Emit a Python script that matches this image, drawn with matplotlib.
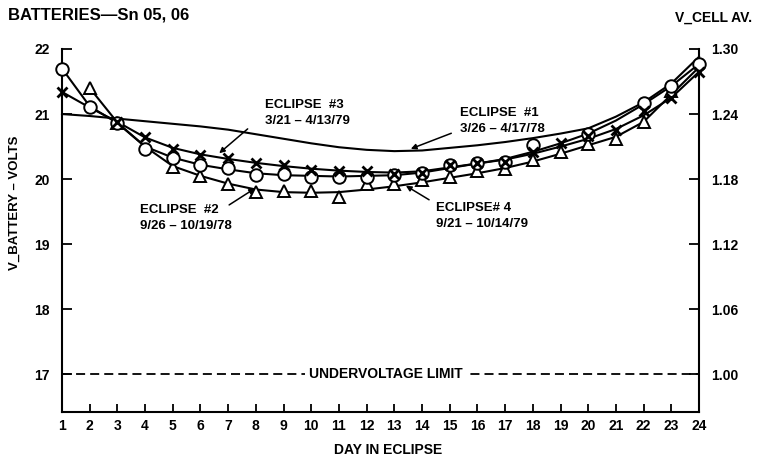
import numpy as np
import matplotlib.pyplot as plt

plt.rcParams['font.family'] = ['Liberation Sans', 'DejaVu Sans']
plt.rcParams['font.weight'] = 'bold'

nan = np.nan
days = list(range(1, 25))

# eclipse #1: smooth trace only, no plotted points
eclipse1 = [21.00, 20.97, 20.93, 20.89, 20.85, 20.81, 20.76, 20.69, 20.62, 20.55, 20.49, 20.45,
            20.43, 20.44, 20.48, 20.52, 20.57, 20.63, 20.70, 20.78, 20.96, 21.18, 21.47, 21.88]

# crosses (eclipse #3)
cross_pts = [21.34, nan, 20.88, 20.64, 20.47, 20.37, 20.32, 20.25, 20.22, 20.14, 20.12, 20.12,
             20.08, 20.09, 20.22, 20.24, 20.26, 20.41, 20.55, 20.66, 20.75, 21.05, 21.24, 21.65]
cross_line = [21.34, 21.10, 20.88, 20.64, 20.48, 20.38, 20.31, 20.25, 20.20, 20.16, 20.13, 20.11,
              20.10, 20.12, 20.18, 20.24, 20.30, 20.39, 20.50, 20.62, 20.77, 20.98, 21.25, 21.65]

# circles
circle_pts = [21.70, 21.11, 20.86, 20.47, 20.33, 20.22, 20.17, 20.06, 20.08, 20.04, 20.03, 20.04,
              20.06, 20.09, 20.22, 20.24, 20.26, 20.52, nan, 20.70, nan, 21.17, 21.43, 21.77]
circle_line = [21.70, 21.12, 20.86, 20.50, 20.33, 20.22, 20.15, 20.09, 20.06, 20.05, 20.04, 20.05,
               20.06, 20.10, 20.17, 20.24, 20.31, 20.42, 20.55, 20.70, 20.90, 21.15, 21.43, 21.77]

# triangles (eclipse #2)
tri_pts = [nan, 21.40, 20.87, nan, 20.19, 20.05, 19.93, 19.80, 19.82, 19.82, 19.72, 19.92,
           19.92, 19.98, 20.03, 20.13, 20.15, 20.30, 20.41, 20.54, 20.62, 20.88, 21.36, nan]
tri_line = [nan, 21.40, 20.87, 20.50, 20.20, 20.05, 19.93, 19.84, 19.80, 19.79, 19.80, 19.84,
            19.89, 19.95, 20.02, 20.09, 20.17, 20.27, 20.39, 20.52, 20.65, 20.88, 21.30, 21.72]

v_ticks = [17, 18, 19, 20, 21, 22]
cell_ticks = [1.00, 1.06, 1.12, 1.18, 1.24, 1.30]
limit = 17


def to_cell(v):
    return 1.0 + (v - 17) * 0.06


def to_batt(c):
    return 17 + (c - 1.0) / 0.06


fig = plt.figure(figsize=(7.58, 4.65), dpi=100)
ax = fig.add_axes([62 / 758, 1 - 412 / 465, 637 / 758, 363 / 465])
ax.set_xlim(1, 24)
ax.set_ylim(16.42, 22)

lw = 1.5
ax.plot(days, eclipse1, color='k', lw=lw, clip_on=False)
ax.plot(days, cross_line, color='k', lw=lw, clip_on=False)
ax.plot(days, circle_line, color='k', lw=lw, clip_on=False)
ax.plot(days, tri_line, color='k', lw=lw, clip_on=False)

ax.plot(days, tri_pts, ls='none', marker='^', ms=9, mfc='white', mec='k', mew=1.4,
        clip_on=False, zorder=4)
ax.plot(days, circle_pts, ls='none', marker='o', ms=9, mfc='white', mec='k', mew=1.4,
        clip_on=False, zorder=5)
ax.plot(days, cross_pts, ls='none', marker='x', ms=6.5, mec='k', mew=2,
        clip_on=False, zorder=6)

# undervoltage limit
ax.axhline(limit, color='k', lw=1.3, ls=(0, (5, 2.8)))
ax.text(12.7, limit, 'UNDERVOLTAGE LIMIT', ha='center', va='center', fontsize=10,
        bbox=dict(facecolor='white', edgecolor='none', pad=3))

# labels with arrows
fs = 9.5
arrow = dict(arrowstyle='-|>', color='k', lw=1.1, mutation_scale=8)
ax.text(15.38, 20.89, 'ECLIPSE  #1\n3/26 – 4/17/78', ha='left', va='center', fontsize=fs,
        linespacing=1.45)
ax.annotate('', xy=(13.5, 20.45), xytext=(15.15, 20.72), arrowprops=arrow)

ax.text(8.32, 21.02, 'ECLIPSE  #3\n3/21 – 4/13/79', ha='left', va='center', fontsize=fs,
        linespacing=1.45)
ax.annotate('', xy=(6.6, 20.37), xytext=(7.78, 20.80), arrowprops=arrow)

ax.text(3.81, 19.40, 'ECLIPSE  #2\n9/26 – 10/19/78', ha='left', va='center', fontsize=fs,
        linespacing=1.45)
ax.annotate('', xy=(8.05, 19.88), xytext=(6.95, 19.58), arrowprops=arrow)

ax.text(14.52, 19.44, 'ECLIPSE# 4\n9/21 – 10/14/79', ha='left', va='center', fontsize=fs,
        linespacing=1.45)
ax.annotate('', xy=(13.33, 19.92), xytext=(14.34, 19.66), arrowprops=arrow)

# axes styling
ax.spines['top'].set_visible(False)
ax.spines['right'].set_visible(False)
for s in ('left', 'bottom'):
    ax.spines[s].set_linewidth(1.5)
ax.set_xticks(days)
ax.set_yticks(v_ticks)
ax.tick_params(axis='x', direction='in', length=6, width=1.3, labelsize=10, pad=5)
ax.tick_params(axis='y', direction='in', length=7, width=1.3, labelsize=10, pad=9)

sec = ax.secondary_yaxis('right', functions=(to_cell, to_batt))
sec.set_yticks(cell_ticks)
sec.set_yticklabels([f'{c:.2f}' for c in cell_ticks])
sec.tick_params(direction='in', length=7, width=1.3, labelsize=10, pad=9)
sec.spines['right'].set_linewidth(1.5)

fig.text(8 / 758, 1 - 15 / 465, 'BATTERIES—Sn 05, 06', ha='left', va='center', fontsize=12)
fig.text(752 / 758, 1 - 18 / 465, 'V_CELL AV.', ha='right', va='center', fontsize=10)
fig.text(15 / 758, 1 - 203 / 465, 'V_BATTERY – VOLTS', ha='center', va='center',
         rotation=90, fontsize=9.5)
fig.text(388 / 758, 1 - 450 / 465, 'DAY IN ECLIPSE', ha='center', va='center', fontsize=10)

fig.savefig('out.png', dpi=100)
